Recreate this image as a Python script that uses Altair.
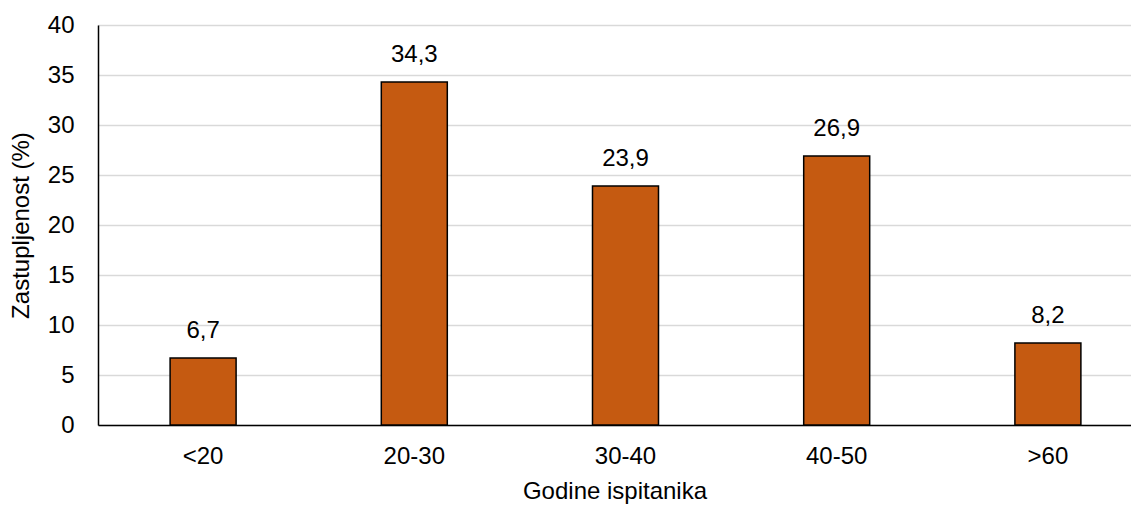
import altair as alt
import pandas as pd

categories = ["<20", "20-30", "30-40", "40-50", ">60"]
values = [6.7, 34.3, 23.9, 26.9, 8.2]

df = pd.DataFrame({"kat": categories, "val": values})

FONT = "Liberation Sans"
FS = 24

x = alt.X("kat:N", sort=categories, title="Godine ispitanika",
          scale=alt.Scale(paddingInner=0.6875, paddingOuter=0.2893, align=0.59),
          axis=alt.Axis(labelAngle=0, labelFontSize=FS, titleFontSize=FS,
                        labelFont=FONT, titleFont=FONT, labelColor="black", titleColor="black",
                        ticks=False, domainColor="black", domainWidth=1.5,
                        labelPadding=19, titlePadding=11, titleFontWeight="normal"))
y = alt.Y("val:Q", title="Zastupljenost (%)",
          scale=alt.Scale(domain=[0, 40]),
          axis=alt.Axis(values=[0, 5, 10, 15, 20, 25, 30, 35, 40], labelFontSize=FS,
                        titleFontSize=FS, labelFont=FONT, titleFont=FONT,
                        labelColor="black", titleColor="black", ticks=False,
                        domainColor="black", domainWidth=1.5, labelPadding=24,
                        titlePadding=14, gridColor="#d9d9d9", gridWidth=1.5,
                        titleFontWeight="normal"))

bars = alt.Chart(df).mark_bar(color="#C55A11", stroke="black", strokeWidth=1.5).encode(x=x, y=y)

labels = alt.Chart(df).transform_calculate(
    lab="replace(format(datum.val, '.1f'), '.', ',')"
).mark_text(font=FONT, fontSize=FS, color="black", baseline="alphabetic", dy=-20).encode(
    x=alt.X("kat:N", sort=categories), y="val:Q", text="lab:N")

chart = (bars + labels).properties(
    width=1033, height=400,
    autosize=alt.AutoSizeParams(type="none"),
    padding={"left": 90, "top": 17, "right": 0, "bottom": 81},
).configure_view(stroke=None).configure(background="white")

chart.save("out.html", embed_options={"renderer": "svg", "actions": False})
